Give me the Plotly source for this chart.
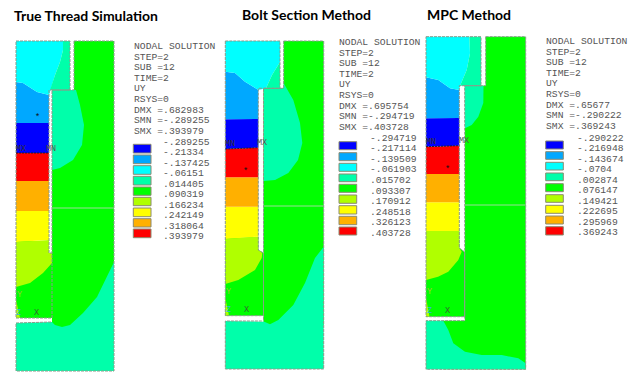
import plotly.graph_objects as go

TITLES = ["True Thread Simulation", "Bolt Section Method", "MPC Method"]
TITLE_X = [14, 242, 427]
TITLE_Y = [15.5, 14.5, 14.5]

HEADER_1 = ["NODAL SOLUTION", "STEP=2", "SUB =12", "TIME=2", "UY", "RSYS=0", "DMX =.682983", "SMN =-.289255", "SMX =.393979"]
HEADER_2 = ["NODAL SOLUTION", "STEP=2", "SUB =12", "TIME=2", "UY", "RSYS=0", "DMX =.695754", "SMN =-.294719", "SMX =.403728"]
HEADER_3 = ["NODAL SOLUTION", "STEP=2", "SUB =12", "TIME=2", "UY", "RSYS=0", "DMX =.65677", "SMN =-.290222", "SMX =.369243"]
LEVELS_1 = ["-.289255", "-.21334", "-.137425", "-.06151", ".014405", ".090319", ".166234", ".242149", ".318064", ".393979"]
LEVELS_2 = ["-.294719", "-.217114", "-.139509", "-.061903", ".015702", ".093307", ".170912", ".248518", ".326123", ".403728"]
LEVELS_3 = ["-.290222", "-.216948", "-.143674", "-.0704", ".002874", ".076147", ".149421", ".222695", ".295969", ".369243"]
BAND_COLORS = ["#0000ff", "#00a8ff", "#00ffff", "#00ffaa", "#00ff00", "#b0ff00", "#ffff00", "#ffb000", "#ff0000"]
BLUE, LBLUE, CYAN, TEAL, GREEN, LIME, YELLOW, ORANGE, RED = BAND_COLORS

# Region outlines
# Panel 1
p1_nut = [(74,41),(114,41),(114,327),(52,327),(52,90),(74,90)]
p1_nut_teal = [(52,90),(76,90),(80,105),(84,125),(82,145),(73,160),(60,168),(52,170)]
p1_base = [(16,323),(52,322),(55,325),(62,327),(70,325),(83,313),(97,297),(107,277),(114,262),(114,371),(16,371)]
p1_bolt_green = [(16,241),(49,241),(49,253),(52,253),(52,318),(16,318)]
p1_lime = [(16,242),(49,240),(49,253),(52,253),(52,263),(43,273),(30,283),(16,287)]
p1_yellow = [(16,211),(49,211),(49,240),(16,242)]
p1_orange = [(16,181),(49,181),(49,211),(16,211)]
p1_red = [(16,153),(49,153),(49,181),(16,181)]
p1_blue = [(16,123),(49,123),(49,153),(16,153)]
p1_lblue = [(16,82),(23,83),(37,92),(49,95),(49,123),(16,123)]
p1_cyan = [(16,41),(63,41),(63,50),(60,62),(55,75),(50,90),(49,95),(37,92),(23,83),(16,82)]
p1_teal = [(63,41),(70,41),(70,90),(50,90),(55,75),(60,62),(63,50)]
p1_triad = [(16,300),(20,318),(16,318)]
p1_edges = [[(16,41),(70,41),(70,90),(49,90),(49,253),(52,253),(52,318),(16,318),(16,41)],
            [(74,41),(114,41),(114,371),(16,371),(16,323),(52,322)],
            [(74,41),(74,90),(52,90),(52,253)]]
p1_sep = [(52,208),(114,208)]
p1_dots = [(16,153),(49,153)]

# Panel 2
p2_nut = [(283.7,41),(323.7,41),(323.7,325),(263.5,325),(263.5,88.3),(283.7,88.3)]
p2_nut_teal = [(263.7,88.3),(283.7,88.3),(283.7,83.3),(293.3,100),(300,123),(302.3,143),(298,160),(288.3,173),(275,180),(263.7,181)]
p2_base = [(225.3,321),(264.3,321.7),(270,324.3),(278.3,320),(293.3,305),(305,283),(315,258),(323.7,246.7),(323.7,369),(225.3,369)]
p2_bolt_green = [(225.3,238),(258.3,237),(258.3,250),(262.3,252.7),(263.5,253),(263.5,315.7),(225.3,315.7)]
p2_lime = [(225.3,239),(258.3,236.7),(258.3,250),(262.3,252.7),(261.7,258),(255,270),(238.3,280),(226,284),(225.3,284)]
p2_yellow = [(225.3,206.7),(258.3,206.7),(258.3,236.7),(225.3,239)]
p2_orange = [(225.3,177.3),(258.3,177.3),(258.3,206.7),(225.3,206.7)]
p2_red = [(225.3,149),(258.3,147.7),(258.3,177.3),(225.3,177.3)]
p2_blue = [(225.3,119.3),(258.3,119),(258.3,147.7),(225.3,149)]
p2_lblue = [(225.3,71.7),(235,73),(245,81.7),(258.3,90),(258.3,119),(225.3,119.3)]
p2_cyan = [(225.3,41),(280,41),(280,62),(272,75),(266,88.3),(258.3,90),(245,81.7),(235,73),(225.3,71.7)]
p2_teal = [(280,62),(280,88.3),(266,88.3),(272,75)]
p2_triad = [(225.3,298),(229,315.7),(225.3,315.7)]
p2_edges = [[(225.3,41),(280,41),(280,88.3),(258.3,88.3),(258.3,250),(262.3,252.7),(263.5,253),(263.5,315.7),(225.3,315.7),(225.3,41)],
            [(283.7,41),(323.7,41),(323.7,369),(225.3,369),(225.3,321),(263.5,321)],
            [(283.7,41),(283.7,88.3),(263.5,88.3),(263.5,321)]]
p2_sep = [(263.7,206),(323.7,206)]
p2_dots = [(225.3,149),(258.3,147.7)]

# Panel 3
p3_nut = [(485.7,36.7),(525.7,36.7),(525.7,369.3),(465,369.3),(465,85.7),(485.7,85.7)]
p3_nut_teal = [(464.7,85.7),(483.5,85.7),(483.3,103),(478.3,116.7),(471.7,125),(465,128.3)]
p3_base = [(426,320.7),(443.3,320.7),(448.3,330),(453.3,343.3),(465,351.7),(481.7,355),(501.7,355),(518.3,358.3),(525.7,363.3),(525.7,369.3),(426,369.3)]
p3_base_green = [(443,320.7),(465,320.7),(465,369.3),(443,369.3)]
p3_bolt_green = [(426,231),(459.3,231),(459.3,248),(464.7,252),(464.7,316.7),(426,316.7)]
p3_lime = [(426,231),(459.3,231),(459.3,248),(461.7,251.7),(458.3,260),(448.3,271.7),(438,276.7),(426.7,280),(426,280)]
p3_yellow = [(426,202.3),(459.3,202.3),(459.3,231),(426,231)]
p3_orange = [(426,174),(459.3,174),(459.3,202.3),(426,202.3)]
p3_red = [(426,146.7),(459.3,145.7),(459.3,174),(426,174)]
p3_blue = [(426,118.3),(459.3,118),(459.3,145.7),(426,146.7)]
p3_lblue = [(426,77.3),(438.3,80),(450,88.3),(459.3,90),(459.3,118),(426,118.3)]
p3_cyan = [(426,36.7),(469.3,36.7),(470,53.3),(466.7,70),(460,85.7),(459.3,90),(450,88.3),(438.3,80),(426,77.3)]
p3_teal = [(469.3,36.7),(481,36.7),(481,85.7),(460,85.7),(466.7,70),(470,53.3)]
p3_triad = [(426,298),(429.5,316.7),(426,316.7)]
p3_edges = [[(426,36.7),(481,36.7),(481,85.7),(459.3,85.7),(459.3,248),(464.7,252),(464.7,316.7),(426,316.7),(426,36.7)],
            [(485.7,36.7),(525.7,36.7),(525.7,369.3),(426,369.3),(426,320.7),(465,320.7)],
            [(485.7,36.7),(485.7,85.7),(464.7,85.7),(464.7,320.7)]]
p3_sep = [(465,205),(525.7,205)]
p3_dots = [(426,146.7),(459.3,145.7)]

# Legend swatch tops and bottoms
SW1 = [(144.3,153),(155,163.7),(165.7,174.3),(176.3,185),(187,195.3),(197.3,205.7),(208,216.7),(218.7,227),(229,237.7)]
SW2 = [(141.7,149.7),(152.7,160.7),(163.3,171.3),(174,181.7),(184.3,192.3),(195,203.3),(205.7,214),(216.3,224.7),(227,235)]
SW3 = [(141,149),(151.7,159.3),(162.3,170),(173,180.7),(183.7,191.7),(194.7,202.3),(205.3,213.3),(216,224),(226.7,235)]
SW_X = [(133.3,151),(339,356.7),(545.7,563.3)]

HEAD_POS = [(133.5,46.7),(339,42.7),(545.7,41.7)]
LEVEL_POS = [(163,142),(370,138.3),(576.7,138)]
LINE_STEP = 10.55

# Labels: text, x, y, colour
MARKS = [("MX",21,148.5,"#333333"),("MN",51,148.5,"#555555"),("*",37,118,"#111111"),
         ("X",36.5,313,"#336633"),("Y",19,295,"#99cc33"),("Z",18.5,313,"#33bbcc"),
         ("MN",230,144,"#333333"),("MX",262,142.5,"#555555"),("*",245.5,172,"#111111"),
         ("X",246,310,"#336633"),("Y",228,292,"#99cc33"),("Z",228,310,"#33bbcc"),
         ("MN",431,142,"#333333"),("MX",464,140.5,"#555555"),("*",447,170,"#111111"),
         ("X",447.5,311,"#336633"),("Y",429,292,"#aacc33"),("Z",429,311,"#33bbcc")]

fig = go.Figure()

def poly(pts, color):
    fig.add_trace(go.Scatter(x=[p[0] for p in pts] + [pts[0][0]], y=[p[1] for p in pts] + [pts[0][1]],
                             mode="lines", fill="toself", fillcolor=color,
                             line=dict(width=0, color=color), hoverinfo="skip", showlegend=False))

def path(pts, color, width=1, dash=None):
    fig.add_trace(go.Scatter(x=[p[0] for p in pts], y=[p[1] for p in pts], mode="lines",
                             line=dict(width=width, color=color, dash=dash), hoverinfo="skip", showlegend=False))

layers = [
    [(p1_nut,GREEN),(p1_base,TEAL),(p1_nut_teal,TEAL),(p1_bolt_green,GREEN),(p1_lime,LIME),(p1_yellow,YELLOW),(p1_orange,ORANGE),
     (p1_red,RED),(p1_blue,BLUE),(p1_lblue,LBLUE),(p1_cyan,CYAN),(p1_teal,TEAL),(p1_triad,LIME)],
    [(p2_nut,GREEN),(p2_base,TEAL),(p2_nut_teal,TEAL),(p2_bolt_green,GREEN),(p2_lime,LIME),(p2_yellow,YELLOW),(p2_orange,ORANGE),
     (p2_red,RED),(p2_blue,BLUE),(p2_lblue,LBLUE),(p2_cyan,CYAN),(p2_teal,TEAL),(p2_triad,LIME)],
    [(p3_nut,GREEN),(p3_base_green,GREEN),(p3_base,TEAL),(p3_nut_teal,TEAL),(p3_bolt_green,GREEN),(p3_lime,LIME),(p3_yellow,YELLOW),(p3_orange,ORANGE),
     (p3_red,RED),(p3_blue,BLUE),(p3_lblue,LBLUE),(p3_cyan,CYAN),(p3_teal,TEAL),(p3_triad,LIME)],
]
for layer in layers:
    for pts, col in layer:
        poly(pts, col)

for edges, sep, dots in [(p1_edges,p1_sep,p1_dots),(p2_edges,p2_sep,p2_dots),(p3_edges,p3_sep,p3_dots)]:
    path(sep, "#99dd99", 1)
    for e in edges:
        path(e, "#8a9a8a", 1, "3px,1px")
    path(dots, "#222222", 1, "2px,1px")

shapes = []
for (x0, x1), sw in zip(SW_X, [SW1, SW2, SW3]):
    for (y0, y1), col in zip(sw, BAND_COLORS):
        shapes.append(dict(type="rect", xref="x", yref="y", x0=x0, x1=x1, y0=y0, y1=y1,
                           fillcolor=col, line=dict(color="#8a8a70", width=1)))

ann = []
def text(s, x, y, size, color, family, anchor="left", bold=False):
    ann.append(dict(text=f"<b>{s}</b>" if bold else s, x=x, y=y, xref="x", yref="y", xanchor=anchor, yanchor="middle",
                    showarrow=False, font=dict(size=size, color=color, family=family), borderpad=0, borderwidth=0))

for t, x, y in zip(TITLES, TITLE_X, TITLE_Y):
    text(t, x, y, 14, "#000000", "Lato", bold=True)
for (hx, hy), head in zip(HEAD_POS, [HEADER_1, HEADER_2, HEADER_3]):
    for i, line in enumerate(head):
        text(line, hx, hy + i * LINE_STEP, 9.7, "#555555", "Liberation Mono")
for (lx, ly), lev in zip(LEVEL_POS, [LEVELS_1, LEVELS_2, LEVELS_3]):
    for i, line in enumerate(lev):
        text(line, lx, ly + i * LINE_STEP, 9.7, "#555555", "Liberation Mono")
for s, x, y, c in MARKS:
    text(s, x, y, 8.5, c, "Liberation Mono", anchor="center")

fig.update_layout(width=635, height=380, margin=dict(l=0, r=0, t=0, b=0), paper_bgcolor="white", plot_bgcolor="white",
                  showlegend=False, shapes=shapes, annotations=ann,
                  xaxis=dict(range=[0, 635], visible=False, fixedrange=True),
                  yaxis=dict(range=[380, 0], visible=False, fixedrange=True))
fig.write_html("out.html", config=dict(displayModeBar=False), include_plotlyjs=True,
               post_script="document.body.style.margin='0';document.body.style.overflow='hidden';")
